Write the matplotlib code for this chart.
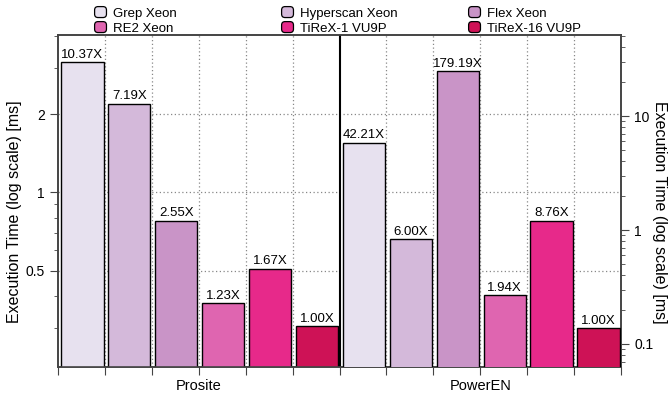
import matplotlib
matplotlib.use("Agg")
import matplotlib.pyplot as plt
from matplotlib.patches import Patch, FancyBboxPatch
from matplotlib.legend_handler import HandlerPatch
from matplotlib.ticker import LogLocator, NullFormatter, FixedLocator, FixedFormatter

plt.rcParams['font.family'] = ['Liberation Sans', 'DejaVu Sans']
plt.rcParams['font.size'] = 9.5

# Datos
benchmarks = ["Prosite", "PowerEN"]
systems = ["Grep Xeon", "Hyperscan Xeon", "Flex Xeon", "RE2 Xeon", "TiReX-1 VU9P", "TiReX-16 VU9P"]
colors = ["#e7e1ef", "#d4b9da", "#c994c7", "#df65b0", "#e7298a", "#ce1256"]
prosite_ms = [3.16, 2.19, 0.777, 0.375, 0.509, 0.305]
poweren_ms = [5.82, 0.828, 24.7, 0.268, 1.21, 0.138]
prosite_labels = ["10.37X", "7.19X", "2.55X", "1.23X", "1.67X", "1.00X"]
poweren_labels = ["42.21X", "6.00X", "179.19X", "1.94X", "8.76X", "1.00X"]
left_ticks = [0.5, 1, 2]
right_ticks = [0.1, 1, 10]

fig = plt.figure(figsize=(6.71, 4.0), dpi=100)
ax = fig.add_axes([58 / 671, 33 / 400, 563 / 671, 332 / 400])
ax2 = ax.twinx()

n = len(systems)
edge = "#444444"


def draw_group(axis, offset, values, labels):
    for i, (v, lab, c) in enumerate(zip(values, labels, colors)):
        x = offset + i + 0.07
        axis.bar(x, v, width=0.9, align='edge', color=c, edgecolor='black',
                 linewidth=1.0, zorder=3)
        axis.annotate(lab, (x + 0.45, v), xytext=(0, 1), textcoords='offset points',
                      ha='center', va='bottom', fontsize=9.5, zorder=4)


draw_group(ax, 0, prosite_ms, prosite_labels)
draw_group(ax2, n, poweren_ms, poweren_labels)

# ejes
ax.set_xlim(0, 2 * n)
ax.set_yscale('log')
ax.set_ylim(0.213, 4.03)
ax2.set_yscale('log')
ax2.set_ylim(0.0628, 51.4)

ax.yaxis.set_major_locator(FixedLocator(left_ticks))
ax.yaxis.set_major_formatter(FixedFormatter([f"{t:g}" for t in left_ticks]))
ax.yaxis.set_minor_locator(LogLocator(base=10, subs=range(2, 10)))
ax.yaxis.set_minor_formatter(NullFormatter())
ax2.yaxis.set_major_locator(FixedLocator(right_ticks))
ax2.yaxis.set_major_formatter(FixedFormatter([f"{t:g}" for t in right_ticks]))
ax2.yaxis.set_minor_locator(LogLocator(base=10, subs=range(2, 10)))
ax2.yaxis.set_minor_formatter(NullFormatter())

# ticks x en los limites de cada barra, nombres en el centro
ax.xaxis.remove_overlapping_locs = False
ax.set_xticks(range(0, 2 * n + 1))
ax.set_xticklabels([])
ax.set_xticks([n / 2, n + n / 2], minor=True)
ax.set_xticklabels(benchmarks, minor=True, fontsize=10.5)
ax.tick_params(axis='x', which='major', direction='out', length=6, color=edge)
ax.tick_params(axis='x', which='minor', length=0, pad=9)
ax.tick_params(axis='y', which='major', direction='out', length=6, color=edge, labelsize=10)
ax.tick_params(axis='y', which='minor', direction='out', length=3, color=edge)
ax2.tick_params(axis='y', which='major', direction='out', length=6, color=edge, labelsize=10)
ax2.tick_params(axis='y', which='minor', direction='out', length=3, color=edge)

# rejilla punteada
ax.set_axisbelow(True)
ax.grid(True, axis='y', which='major', linestyle=(0, (1, 2)), color='#888888', linewidth=0.9)
for b in range(1, 2 * n):
    if b != n:
        ax.axvline(b, linestyle=(0, (1, 2)), color='#888888', linewidth=0.9, zorder=0)
ax.axvline(n, color='black', linewidth=1.5, zorder=5)

for a in (ax, ax2):
    for s in a.spines.values():
        s.set_color(edge)
        s.set_linewidth(1.2)

ylabel = "Execution Time (log scale) [ms]"
fig.text(15 / 671, 0.47, ylabel, rotation=90, ha='center', va='center', fontsize=11.5)
fig.text(659 / 671, 0.47, ylabel, rotation=270, ha='center', va='center', fontsize=11.5)


# leyenda con cuadros redondeados
def rounded_box(legend, orig_handle, xdescent, ydescent, width, height, fontsize):
    return FancyBboxPatch((-xdescent, -ydescent), width, height,
                          boxstyle="round,pad=0,rounding_size=2.5")


handles = [Patch(facecolor=c, edgecolor='black', linewidth=0.9, label=s)
           for s, c in zip(systems, colors)]
col_x = [88 / 671, 275 / 671, 462 / 671]
for k in range(3):
    fig.legend(handles=[handles[k], handles[k + 3]], loc='upper left',
               bbox_to_anchor=(col_x[k], 1.0), frameon=False, fontsize=9.5,
               handlelength=0.9, handleheight=0.9, handletextpad=0.5,
               labelspacing=0.15, borderpad=0.2, borderaxespad=0.3,
               handler_map={Patch: HandlerPatch(patch_func=rounded_box)})

fig.savefig("out.png", dpi=100)
